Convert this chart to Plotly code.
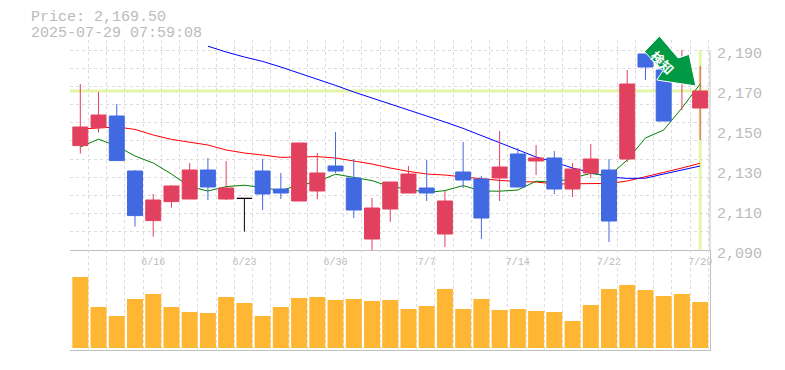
import plotly.graph_objects as go

# ---- data ----
date_ticks = [4, 9, 14, 19, 24, 29, 34]
date_labels = ["6/16", "6/23", "6/30", "7/7", "7/14", "7/22", "7/29"]
price_ticks = [2090, 2110, 2130, 2150, 2170, 2190]
price_labels = ["2,090", "2,110", "2,130", "2,150", "2,170", "2,190"]

idx = list(range(35))
opens = [2142.2, 2151.3, 2157, 2129.5, 2104.7, 2114.2, 2115.5, 2130, 2115.5, None,
         2129.5, 2120.5, 2114.5, 2119.5, 2132, 2126, 2095.5, 2110.5, 2118.5, 2121,
         2098, 2129, 2125.5, 2126, 2138, 2134.5, 2136, 2120.5, 2128.5, 2130,
         2135.5, 2188, 2180, 2175, 2161]
highs = [2173, 2169, 2163, 2130, 2118, 2122.5, 2133.5, 2136, 2134.5, None,
         2135.5, 2128.5, 2143.5, 2138.5, 2149, 2135.5, 2116, 2124, 2132, 2135,
         2119.5, 2144, 2127, 2149.5, 2141, 2142.5, 2139.5, 2133.5, 2143, 2135.5,
         2180, 2188, 2180, 2190, 2182]
lows = [2138.2, 2148.7, 2134.7, 2101.7, 2096.7, 2111.2, 2115.5, 2115, 2115, None,
        2110, 2115.5, 2114.5, 2115.5, 2128.5, 2106, 2089.5, 2104, 2118.5, 2114.5,
        2091.5, 2121, 2095.5, 2114.5, 2121.5, 2127.5, 2118, 2116.5, 2126, 2094,
        2134, 2175, 2154.5, 2160, 2145]
closes = [2151.5, 2157.5, 2134.7, 2107.2, 2115, 2122, 2130, 2121.5, 2121, None,
          2118, 2118.5, 2143.5, 2128.5, 2129.5, 2110, 2111, 2124, 2128, 2118.5,
          2114.5, 2125, 2106, 2131.5, 2121.5, 2136, 2120.5, 2130.5, 2135.5, 2104.5,
          2173, 2181.5, 2154.5, 2181, 2169.5]

doji_idx = [9]
doji_open = [2115.8]
doji_high = [2115.8]
doji_low = [2099.2]
doji_close = [2115.8]

ma_short = [2141.5, 2145.4, 2142, 2137, 2133.5, 2128, 2121.7, 2119.5, 2121.7, 2122.4,
            2121.2, 2119.7, 2122.5, 2124.2, 2127.9, 2126.4, 2124.7, 2121.7, 2120.5, 2118.7,
            2119.7, 2122.2, 2119.5, 2119.4, 2120, 2124.4, 2123.9, 2126, 2128.3, 2127,
            2135, 2146, 2150, 2161, 2173]
ma_mid = [2150.5, 2151, 2151.5, 2150.3, 2147.5, 2145.3, 2144, 2142.5, 2140, 2138.5,
          2137.5, 2136.3, 2136.5, 2136.7, 2136, 2134.5, 2133, 2131, 2129.3, 2128,
          2127.5, 2126.5, 2125.5, 2124.8, 2124.2, 2124, 2123, 2123, 2123.3, 2123.3,
          2124.5, 2126.5, 2128.8, 2131, 2133.4]
ma_long_idx = list(range(7, 35))
ma_long = [2191.9, 2189, 2186.5, 2184.3, 2181.5, 2178.5, 2175.5, 2172.3, 2169, 2166,
           2163, 2160, 2157.3, 2154, 2150.8, 2147.3, 2143.5, 2140, 2136.5, 2134,
           2131, 2128.8, 2126.5, 2125.8, 2125.9, 2128, 2130, 2132]

volume = [71, 41, 32, 49, 54, 41, 36, 35, 51, 45, 32, 41, 50, 51, 48, 49, 47, 48,
          39, 42, 59, 39, 49, 38, 39, 37, 36, 27, 43, 59, 63, 58, 52, 54, 46]

last_price = 2169.5
last_index = 34
price_text = "Price: 2,169.50"
time_text = "2025-07-29 07:59:08"
badge_text = "検知"

# ---- styling ----
RED, BLUE, GREEN = "#e2405f", "#4169e1", "#008000"
GRID, AXIS, TEXT = "#dcdcdc", "#c0c0c0", "#bbbbbb"
MONO = "Liberation Mono"
X_RANGE = [-0.565, 34.54]
FRAME_TOP = 2190
Y_RANGE = [2090, 2195]        # 5 extra units above the frame: the long average starts there
PLOT_H = 310
VOL_TOP = 100 / PLOT_H
x_grid = [-0.55 + k for k in range(36)]
y_grid = [2090 + k * 100 / 11 for k in range(12)]
minor_x = dict(tickvals=x_grid, showgrid=True, gridcolor=GRID, griddash="3px,3px", gridwidth=1, ticks="")
minor_y = dict(tickvals=y_grid, showgrid=True, gridcolor=GRID, griddash="3px,3px", gridwidth=1, ticks="")


def paper_x(v):
    return (v - X_RANGE[0]) / (X_RANGE[1] - X_RANGE[0])


def paper_y(v):
    return VOL_TOP + (1 - VOL_TOP) * (v - Y_RANGE[0]) / (Y_RANGE[1] - Y_RANGE[0])


fig = go.Figure()
for xs, ys, col in [(idx, ma_mid, "#ff0000"), (ma_long_idx, ma_long, "#0000ff"), (idx, ma_short, GREEN)]:
    fig.add_trace(go.Scatter(x=xs, y=ys, mode="lines", line=dict(color=col, width=1),
                             xaxis="x", yaxis="y", hoverinfo="skip"))

fig.add_trace(go.Candlestick(
    x=idx, open=opens, high=highs, low=lows, close=closes, xaxis="x3", yaxis="y3",
    increasing=dict(line=dict(color=RED, width=1), fillcolor=RED),
    decreasing=dict(line=dict(color=BLUE, width=1), fillcolor=BLUE)))
fig.add_trace(go.Candlestick(
    x=doji_idx, open=doji_open, high=doji_high, low=doji_low, close=doji_close, xaxis="x3", yaxis="y3",
    increasing=dict(line=dict(color="#000000", width=1), fillcolor="#000000"),
    decreasing=dict(line=dict(color="#000000", width=1), fillcolor="#000000")))

fig.add_trace(go.Bar(x=idx, y=volume, marker=dict(color="#ffb733", line=dict(width=0)),
                     xaxis="x2", yaxis="y2", hoverinfo="skip"))

band = dict(type="line", layer="below", line=dict(color="#e3f6a5", width=3))
arrow_path = ("M -40.7 55 L -55.7 39.3 L -37.3 20.3 L -43.3 11 L -4.3 5 "
              "L -11 36.7 L -22 33 Z")

fig.update_layout(
    width=785, height=370, autosize=False, showlegend=False,
    margin=dict(l=70, r=75, t=40, b=20, pad=0, autoexpand=False),
    paper_bgcolor="white", plot_bgcolor="white",
    boxgap=0.18, boxgroupgap=0, bargap=0.122,
    font=dict(family=MONO, color=TEXT),
    xaxis=dict(domain=[0, 1], anchor="y", range=X_RANGE, tickvals=date_ticks, ticktext=date_labels,
               tickfont=dict(family=MONO, size=10, color=TEXT), ticks="", ticklabelstandoff=2,
               showgrid=False, zeroline=False, showline=True, linecolor=AXIS, linewidth=1, minor=minor_x,
               rangeslider=dict(visible=False)),
    yaxis=dict(domain=[VOL_TOP, 1], anchor="x", side="right", range=Y_RANGE, tickvals=price_ticks,
               ticktext=price_labels, tickfont=dict(family=MONO, size=15, color=TEXT), ticks="",
               ticklabelstandoff=6, ticklabelshift=3, showgrid=False, zeroline=False, showline=False,
               minor=minor_y),
    xaxis2=dict(domain=[0, 1], anchor="y2", range=X_RANGE, showticklabels=False, ticks="", showgrid=False,
                zeroline=False, showline=True, linecolor=AXIS, linewidth=1, minor=minor_x),
    yaxis2=dict(domain=[0, VOL_TOP], anchor="x2", side="right", range=[-2, 98], showticklabels=False,
                ticks="", showgrid=False, zeroline=False, showline=True, linecolor=AXIS, linewidth=1),
    xaxis3=dict(overlaying="x", anchor="y3", range=X_RANGE, visible=False, rangeslider=dict(visible=False)),
    yaxis3=dict(overlaying="y", anchor="x3", side="right", range=Y_RANGE, visible=False),
    shapes=[
        # blanks the vertical grid above the frame
        dict(type="rect", layer="below", xref="paper", yref="y", x0=0, x1=1, y0=FRAME_TOP + 0.2, y1=Y_RANGE[1],
             fillcolor="white", line=dict(width=0)),
        dict(band, xref="x", yref="y", x0=X_RANGE[0], x1=X_RANGE[1], y0=last_price, y1=last_price),
        dict(band, xref="x", yref="y", x0=last_index, x1=last_index, y0=Y_RANGE[0], y1=FRAME_TOP),
        dict(type="line", layer="below", xref="paper", yref="y", x0=1, x1=1, y0=Y_RANGE[0], y1=FRAME_TOP,
             line=dict(color=AXIS, width=1)),
        dict(type="path", layer="above", xref="paper", yref="paper", xsizemode="pixel", ysizemode="pixel",
             xanchor=paper_x(last_index), yanchor=paper_y(last_price), path=arrow_path,
             fillcolor="#009a44", line=dict(color="white", width=1)),
    ],
    annotations=[
        dict(text=price_text, xref="paper", yref="paper", x=-0.064, y=1.0735, xanchor="left", yanchor="middle",
             showarrow=False, font=dict(family=MONO, size=15, color=TEXT)),
        dict(text=time_text, xref="paper", yref="paper", x=-0.064, y=1.021, xanchor="left", yanchor="middle",
             showarrow=False, font=dict(family=MONO, size=15, color=TEXT)),
        dict(text="<b>" + badge_text + "</b>", xref="paper", yref="paper", x=paper_x(last_index),
             y=paper_y(last_price), xanchor="center", yanchor="middle", xshift=-37, yshift=29,
             textangle=45, showarrow=False,
             font=dict(family="Noto Sans CJK JP", size=13, color="white")),
    ],
)

fig.write_html("out.html", config={"displayModeBar": False},
               post_script="document.body.style.margin='0';")
